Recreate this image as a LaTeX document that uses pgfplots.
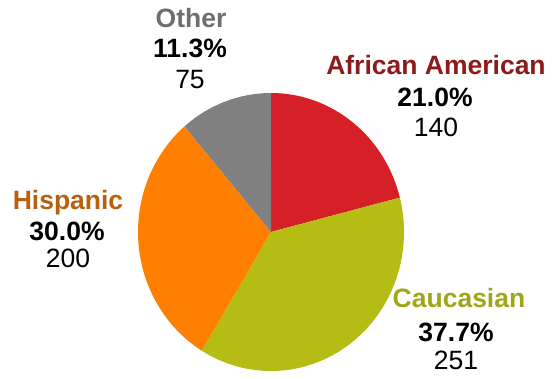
\documentclass[border=0pt]{standalone}
\usepackage{pgfplots}
\pgfplotsset{compat=1.18}
\usepackage{pgfplotstable}
\usepackage{fontspec}
\setmainfont{Liberation Sans}
\definecolor{cAA}{HTML}{D62027}
\definecolor{cCau}{HTML}{B5BD14}
\definecolor{cHis}{HTML}{FF8000}
\definecolor{cOth}{HTML}{808080}
\definecolor{tAA}{HTML}{8E1A1C}
\definecolor{tCau}{HTML}{9FA718}
\definecolor{tHis}{HTML}{B8600E}
\definecolor{tOth}{HTML}{6E6E6E}
\pgfplotstableread{
name value
AfricanAmerican 140
Caucasian 251
Hispanic 200
Other 75
}\piedata
\pgfplotstablegetelem{0}{value}\of\piedata \let\vA\pgfplotsretval
\pgfplotstablegetelem{1}{value}\of\piedata \let\vB\pgfplotsretval
\pgfplotstablegetelem{2}{value}\of\piedata \let\vC\pgfplotsretval
\pgfplotstablegetelem{3}{value}\of\piedata \let\vD\pgfplotsretval
\pgfmathsetmacro\tot{\vA+\vB+\vC+\vD}
\pgfmathsetmacro\sA{90}
\pgfmathsetmacro\sB{\sA-360*(\vA/\tot)}
\pgfmathsetmacro\sC{\sB-360*(\vB/\tot)}
\pgfmathsetmacro\sD{\sC-360*(\vC/\tot)}
\pgfmathsetmacro\sE{\sD-360*(\vD/\tot)}
\def\cx{271}\def\cy{146}\def\rx{133}\def\ry{139}
\newcommand\pieWedge[3]{%
  \pgfmathsetmacro\px{\cx+\rx*cos(#1)}%
  \pgfmathsetmacro\py{\cy+\ry*sin(#1)}%
  \edef\tmp{\noexpand\fill[#3] (axis cs:\cx,\cy) -- (axis cs:\px,\py) arc[start angle=#1, end angle=#2, x radius=\rx bp, y radius=\ry bp] -- cycle;}%
  \tmp}
\begin{document}
\begin{tikzpicture}
\begin{axis}[x=1bp,y=1bp,xmin=0,xmax=552,ymin=0,ymax=378,
  hide axis, scale only axis, clip=false, anchor=origin, at={(0,0)}]
\path (axis cs:0,0) rectangle (axis cs:552,378);
\pieWedge{\sA}{\sB}{cAA}
\pieWedge{\sB}{\sC}{cCau}
\pieWedge{\sC}{\sD}{cHis}
\pieWedge{\sD}{\sE}{cOth}
\tikzset{lab/.style={anchor=base, inner sep=0pt, font=\bfseries\fontsize{26.5bp}{30bp}\selectfont},
         num/.style={anchor=base, inner sep=0pt, font=\fontsize{26.5bp}{30bp}\selectfont}}
\node[lab, text=tAA] at (axis cs:436,304) {African American};
\node[lab] at (axis cs:435,272) {21.0\%};
\node[num] at (axis cs:436,242) {140};
\node[lab, text=tHis] at (axis cs:68,169) {Hispanic};
\node[lab] at (axis cs:67,138) {30.0\%};
\node[num] at (axis cs:68,111) {200};
\node[lab, text=tCau] at (axis cs:459,71) {Caucasian};
\node[lab] at (axis cs:456,37) {37.7\%};
\node[num] at (axis cs:456,9) {251};
\node[lab, text=tOth] at (axis cs:191,351) {Other};
\node[lab] at (axis cs:190,321) {11.3\%};
\node[num] at (axis cs:190,290) {75};
\end{axis}
\end{tikzpicture}
\end{document}
